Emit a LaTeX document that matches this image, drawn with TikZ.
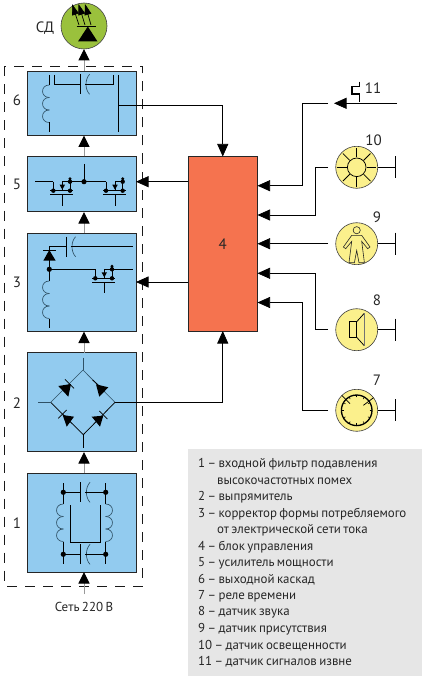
\documentclass[tikz,border=0pt]{standalone}
\usepackage{fontspec}
\setmainfont[WordSpace=0.7]{PT Sans}
\usepackage{xcolor}
\usetikzlibrary{positioning,arrows.meta,calc}

\definecolor{blockblue}{HTML}{92CBEF}
\definecolor{ctrlred}{HTML}{F5734F}
\definecolor{sensoryellow}{HTML}{FBF08C}
\definecolor{ledgreen}{HTML}{9AC13C}
\definecolor{legendgray}{HTML}{E6E6E6}
\definecolor{coilgray}{HTML}{2F5166}

\newcommand{\coil}[3]{%
  \foreach \n in {0,1,2}
    \draw[coilc] (#1,#2+\n*12.5) .. controls (#1+#3*9,#2+\n*12.5) and (#1+#3*9,#2+\n*12.5+12.5) .. (#1,#2+\n*12.5+12.5);
}
\newcommand{\capac}[2]{%
  \draw[wire] (#1,#2-10) -- (#1,#2+10);
  \draw[coilc] (#1+9.3,#2-10) .. controls (#1+4.5,#2-5) and (#1+4.5,#2+5) .. (#1+9.3,#2+10);
}
\newcommand{\mosfet}[2]{%
  \begin{scope}[shift={(#1,#2)}]
    \draw[wire] (0,0) -- (0,9);
    \draw[wire] (-3,9) -- (20,9);
    \draw[wire] (-3,12.7) -- (20,12.7);
    \draw[wire] (9,12.7) -- (9,24);
    \draw[wire] (9,9) -- (9,0) -- (16.7,0) -- (16.7,9);
    \fill[black] (6.3,3) -- (11.7,3) -- (9,8) -- cycle;
    \fill[black] (0,9) circle (2.2pt) (16.7,9) circle (2.2pt) (16.7,0) circle (2.2pt) (16.7,-3) circle (1.6pt);
  \end{scope}
}

\begin{document}
\begin{tikzpicture}[x=1pt, y=-1pt, node distance=21.5pt, auto, >=latex]
    \tikzstyle{block}=[rectangle, draw=black!85, line width=0.8pt, fill=blockblue, inner sep=0pt, outer sep=0pt, minimum width=109pt]
    \tikzstyle{sensor}=[circle, draw=black!75, line width=0.6pt, fill=sensoryellow, inner sep=0pt, outer sep=0pt, minimum size=42pt]
    \tikzstyle{num}=[font=\fontsize{15}{17}\selectfont, text=black!85, inner sep=0pt]
    \tikzstyle{wire}=[draw=black, line width=0.75pt]
    \tikzstyle{coilc}=[draw=coilgray, line width=0.65pt]
    \tikzstyle{sig}=[draw=black, line width=0.75pt, -{Triangle[width=11pt,length=12.5pt,color=black]}]
    \tikzstyle{feed}=[draw=black!40, line width=1pt, -{Triangle[width=11pt,length=11.5pt,color=black]}]
    \tikzstyle{legend}=[anchor=west, inner sep=0pt, text=black!85, font=\fontsize{12.9}{14}\selectfont]

    \useasboundingbox (0,0) rectangle (426,679);

    \draw[black!90, line width=0.8pt, dash pattern=on 10pt off 8pt] (4.5,66.5) rectangle (142.5,586);

    \node[block, minimum height=99pt] (b1) at (81.5,522.5) {};
    \node[block, above=of b1, minimum height=99pt] (b2) {};
    \node[block, above=of b2, minimum height=98pt] (b3) {};
    \node[block, above=of b3, minimum height=55pt] (b5) {};
    \node[block, above=of b5, minimum height=64pt] (b6) {};
    \node[rectangle, draw=black!85, line width=0.8pt, fill=ctrlred, inner sep=0pt, outer sep=0pt, minimum width=69.5pt, minimum height=174.5pt] (b4) at (222.75,243.75) {};
    \node[num] (n4) at (b4) {4};

    \node[num] (n1) at (17,523) {1};
    \node[num] (n2) at (17,403) {2};
    \node[num] (n3) at (17,282) {3};
    \node[num] (n5) at (17,184) {5};
    \node[num] (n6) at (17,100) {6};

    \node[circle, draw=black!75, line width=0.6pt, fill=ledgreen, inner sep=0pt, outer sep=0pt, minimum size=46pt] (led) at (84,26) {};
    \node[num] (ledname) at (45,28) {СД};
    \node[inner sep=0pt, font=\fontsize{13}{14}\selectfont, text=black!85] (mains) at (84,606.5) {Сеть 220 В};
    \coordinate (mainsin) at (84,594);

    \draw[feed] (mainsin) -- (84,572);
    \draw[feed] (b1.north) ++(2.5,0) -- ++(0,-21);
    \draw[feed] (b2.north) ++(2.5,0) -- ++(0,-21);
    \draw[feed] (b3.north) ++(2.5,0) -- ++(0,-21);
    \draw[feed] (b5.north) ++(2.5,0) -- ++(0,-21);
    \draw[feed] (b6.north) ++(2.5,0) -- (led.south -| 84,0);

    \fill[black] (87.8,26.5) -- (78,41.5) -- (97.5,41.5) -- cycle;
    \draw[wire] (76.7,26) -- (95.7,26);
    \foreach \tx/\hx in {79/72,85/78.5,91/85}
      \draw[draw=black, line width=0.7pt, -{Triangle[width=7pt,length=11pt,color=black]}] (\tx,25) -- (\hx,4);

    \coordinate (out6) at (118.3,105.3);
    \coordinate (out5) at (84,181.7);
    \coordinate (out2) at (115,402.3);
    \draw[sig] (out6) -| (b4.north);
    \draw[sig] (out5 -| b4.west) -- (out5 -| b5.east);
    \draw[sig] (b3.east -| b4.west) -- (b3.east);
    \draw[sig] (out2) -| (b4.south);

    \coil{49.3}{85}{-1}
    \draw[wire] (49.3,75) -- (49.3,85);
    \draw[wire] (49.3,122.5) -- (49.3,131.7);
    \draw[wire] (54.3,75) -- (54.3,84.3) -- (80.3,84.3);
    \capac{80.3}{84.3}
    \draw[wire] (85,84.3) -- (113.3,84.3) -- (113.3,75);
    \draw[wire] (118.3,75) -- (118.3,131.7);

    \mosfet{53.3}{181.7}
    \mosfet{106}{181.7}
    \draw[wire] (35,181.7) -- (53.3,181.7);
    \draw[wire] (70,181.7) -- (106,181.7);
    \draw[wire] (84,164) -- (84,181.7);
    \fill[black] (84,181.7) circle (2.6pt);

    \draw[wire] (49.3,246.7) -- (66.3,246.7);
    \capac{66.3}{246.7}
    \draw[wire] (70.7,246.7) -- (132.7,246.7);
    \draw[wire] (49.3,246.7) -- (49.3,281);
    \fill[black] (49.3,250) -- (43.3,260.7) -- (55.7,260.7) -- cycle;
    \draw[wire] (43.3,250) -- (56,250);
    \fill[black] (49.3,269.3) circle (2.6pt);
    \draw[wire] (49.3,269.3) -- (95.3,269.3);
    \mosfet{95.3}{269.3}
    \draw[wire] (112,269.3) -- (132.7,269.3);
    \coil{49.3}{281}{-1}
    \draw[wire] (49.3,318.5) -- (49.3,328.3);

    \draw[coilc] (83,370) -- (115,402.3);
    \draw[coilc] (83,370) -- (50.7,402.3);
    \draw[black, line width=0.75pt] (50.7,402.3) -- (83.3,434.7) -- (115,402.3);
    \draw[coilc, line width=1pt] (83,357.7) -- (83,370);
    \draw[coilc, line width=1pt] (38,402.3) -- (50.7,402.3);
    \draw[wire] (83.3,434.7) -- (83.3,447.7);
    \foreach \ax/\ay/\bx/\by/\cx/\cy/\dx/\dy/\ex/\ey in {
      71/384/58.3/386/68.3/396.7/65/379.3/74/388.3,
      96/384.3/108.3/387.3/99.3/396.7/92.7/380/101.7/388.3,
      62.7/415/74/416.7/66.7/426.7/58.3/418.3/66.7/410,
      103.3/415.7/91.7/416.7/100/426.7/99.3/411/107.3/419}{
      \fill[black] (\ax,\ay) -- (\bx,\by) -- (\cx,\cy) -- cycle;
      \draw[wire] (\dx,\dy) -- (\ex,\ey);
    }

    \foreach \y in {492.3,554.3}{
      \draw[wire] (63.3,\y) -- (80.7,\y);
      \capac{80.7}{\y}
      \draw[wire] (85,\y) -- (105.7,\y);
      \fill[black] (63.3,\y) circle (2.6pt) (105.7,\y) circle (2.6pt);
    }
    \draw[wire] (63.3,483.3) -- (63.3,504);
    \draw[wire] (105.7,483.3) -- (105.7,504);
    \coil{63.3}{504}{-1}
    \coil{105.7}{504}{1}
    \draw[wire] (63.3,541.5) -- (63.3,564.3);
    \draw[wire] (105.7,541.5) -- (105.7,564.3);
    \draw[wire] (70.3,505) -- (70.3,542.3) -- (100.3,542.3) -- (100.3,505);

    \node[sensor] (s10) at (356.7,167.3) {};
    \node[sensor] (s9) at (356.7,243.7) {};
    \node[sensor] (s8) at (356.7,329.7) {};
    \node[sensor] (s7) at (356.7,410.3) {};
    \node[num] (n11) at (373,88) {11};
    \node[num] (n10) at (373.5,140) {10};
    \node[num] (n9) at (377,217) {9};
    \node[num] (n8) at (377,300) {8};
    \node[num] (n7) at (377,380) {7};

    \foreach \s in {s10,s9,s8,s7}{
      \coordinate (\s bar) at ($(\s)+(39,0)$);
      \coordinate (\s in) at ($(\s)+(-28.7,0)$);
      \draw[wire] (\s.east) -- (\s bar);
      \draw[wire] ($(\s bar)+(0,-11)$) -- ($(\s bar)+(0,11)$);
    }

    \coordinate (c11r) at (397,103.3);
    \coordinate (c11l) at (334,103.3);
    \coordinate (c11o) at (328,103.3);
    \draw[sig] (c11r) -- (c11l);
    \draw[line width=1.3pt] (359.3,81.7) -- (359.3,86.7) -- (352,86.7) -- (352,94) -- (359.3,94) -- (359.3,101.7);
    \draw[sig] (c11o) -- ++(-26,0) |- (b4.east |- 0,185.7);
    \draw[sig] (s10in) -- ++(-13,0) |- (b4.east |- 0,215);
    \draw[sig] (s9in) -- (b4.east |- s9in);
    \draw[sig] (s8in) -- ++(-13,0) |- (b4.east |- 0,273.3);
    \draw[sig] (s7in) -- ++(-26,0) |- (b4.east |- 0,302.5);

    \draw[wire] (s10) circle (9.3pt);
    \foreach \a in {0,45,...,315}
      \draw[wire] ($(s10)+(\a:9.8)$) -- ($(s10)+(\a:19.5)$);

    \begin{scope}[shift={(s9)}]
      \draw[black!85, line width=0.6pt] (0,-13.5) circle (3.6pt);
      \draw[black!85, line width=0.6pt] (-5,-8.3) -- (-13.3,3.3) -- (-11,5) -- (-5,-2.3) -- (-7.7,19) -- (-2.3,19) -- (0,6.7) -- (2.3,19) -- (7.7,19) -- (5,-2.3) -- (11,5) -- (13.3,3.3) -- (5,-8.3) -- cycle;
    \end{scope}

    \draw[wire] (349.3,321.7) rectangle (356.7,337.3);
    \draw[wire] (356.7,321.7) -- (364.3,313.3);
    \draw[wire] (356.7,337.3) -- (364.3,345.7);
    \draw[draw=black!55, line width=0.9pt] (364.3,313.3) -- (364.3,345.7);

    \draw[black, line width=1.3pt] (s7) circle (15.3pt);
    \foreach \a in {0,30,...,330}
      \draw[black, line width=0.6pt] ($(s7)+(\a:13)$) -- ($(s7)+(\a:15)$);
    \draw[wire] ($(s7)+(-6.7,-6.7)$) -- (s7) -- ($(s7)+(6.7,-5)$);

    \node[rectangle, fill=legendgray, inner sep=0pt, minimum width=234pt, minimum height=226.7pt] (legendbox) at (305,562.3) {};
    \foreach \i/\x/\txt in {
      0/198/{1 – входной фильтр подавления},
      1/217/{высокочастотных помех},
      2/198/{2 – выпрямитель},
      3/198/{3 – корректор формы потребляемого},
      4/217/{от электрической сети тока},
      5/198/{4 – блок управления},
      6/198/{5 – усилитель мощности},
      7/198/{6 – выходной каскад},
      8/198/{7 – реле времени},
      9/198/{8 – датчик звука},
      10/198/{9 – датчик присутствия},
      11/198/{10 – датчик освещенности},
      12/198/{11 – датчик сигналов извне}}
      \node[legend] (leg\i) at (\x,464.3+16.47*\i) {\txt};
\end{tikzpicture}
\end{document}
